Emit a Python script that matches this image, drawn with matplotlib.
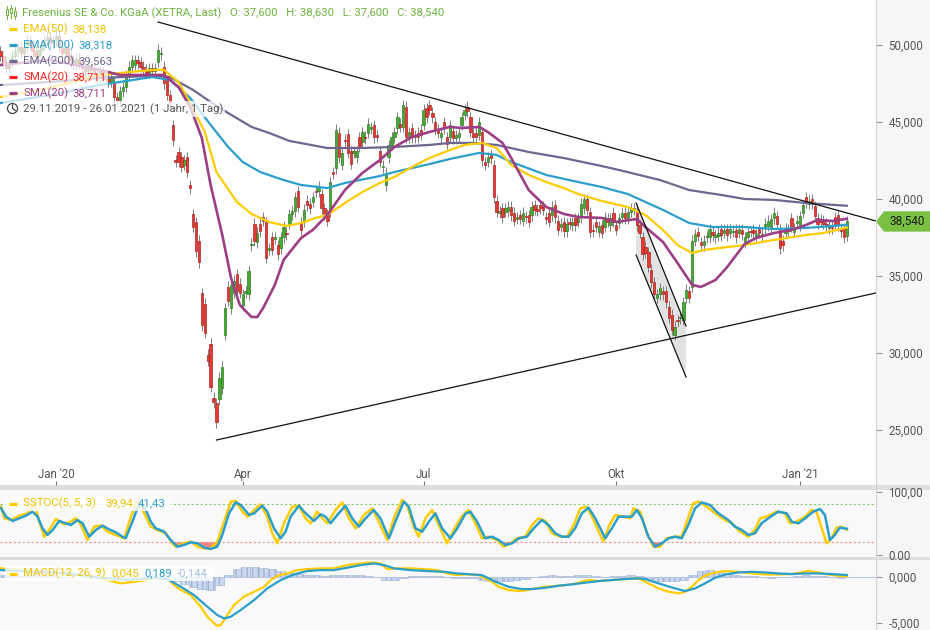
import numpy as np
import pandas as pd
import matplotlib
matplotlib.use("Agg")
import matplotlib.pyplot as plt
import matplotlib.transforms as mtransforms
from matplotlib.patches import Polygon, Rectangle, Circle
from matplotlib.lines import Line2D

plt.rcParams['font.family'] = ['Roboto', 'DejaVu Sans']

W, H = 930, 630

# ---------------- data ----------------
xetra_holidays = ["2019-12-24", "2019-12-25", "2019-12-26", "2019-12-31", "2020-01-01",
                  "2020-04-10", "2020-04-13", "2020-05-01", "2020-12-24", "2020-12-25",
                  "2020-12-31", "2021-01-01"]
dates = pd.bdate_range("2019-11-29", "2021-01-26")
dates = dates[~dates.isin(pd.to_datetime(xetra_holidays))]

opens = [
    49.6, 49.3, 48.9, 48.5, 48.9, 49.3, 49.6, 49.9, 49.5, 49.9,
    50.3, 50.0, 49.6, 49.3, 49.7, 50.0, 50.3, 50.5, 50.1, 50.3,
    50.6, 49.9, 49.5, 49.8, 49.3, 49.0, 48.7, 49.1, 48.8, 48.5,
    48.3, 48.7, 48.4, 48.1, 47.9, 48.3, 48.0, 47.8, 47.6, 47.6,
    46.6, 46.4, 47.0, 47.3, 48.0, 48.6, 48.7, 49.0, 48.9, 48.6,
    48.4, 48.2, 48.5, 48.3, 48.9, 49.4, 48.6, 47.7, 46.75, 44.8,
    42.5, 43.05, 42.7, 42.2, 42.7, 40.9, 39.0, 38.5, 37.3, 33.9,
    33.2, 29.9, 30.6, 27.1, 26.75, 27.0, 27.7, 31.2, 34.3, 32.9,
    33.9, 35.1, 34.5, 33.1, 33.9, 33.8, 37.0, 38.4, 37.2, 38.4,
    38.8, 38.5, 36.7, 37.5, 37.4, 37.0, 36.8, 37.5, 37.8, 38.4,
    39.0, 39.2, 40.5, 38.5, 38.5, 39.9, 39.7, 39.8, 40.55, 40.5,
    40.3, 39.4, 39.0, 39.2, 41.75, 42.0, 44.3, 42.2, 43.85, 44.2,
    43.1, 43.0, 42.7, 44.0, 43.7, 44.05, 44.3, 44.55, 44.8, 44.15,
    43.1, 42.05, 40.9, 42.7, 43.5, 44.0, 44.6, 44.9, 44.7, 46.0,
    44.0, 44.6, 44.0, 44.3, 44.5, 44.8, 45.9, 46.1, 45.6, 45.0,
    44.5, 44.0, 45.0, 44.0, 44.0, 44.4, 43.95, 44.0, 44.8, 45.45,
    46.0, 45.3, 44.3, 44.3, 44.15, 44.35, 42.4, 42.4, 42.85, 42.2,
    39.9, 39.1, 39.4, 39.15, 39.2, 39.5, 39.1, 38.7, 38.95, 38.6,
    38.9, 38.95, 38.95, 39.6, 39.35, 39.6, 39.5, 38.8, 39.1, 38.95,
    39.6, 38.6, 38.2, 38.5, 37.9, 38.5, 38.3, 38.75, 38.5, 38.8,
    39.4, 40.0, 39.15, 38.0, 38.5, 37.85, 38.3, 38.2, 38.75, 38.3,
    39.1, 38.3, 38.45, 38.8, 39.1, 38.7, 39.15, 39.3, 39.3, 38.3,
    37.5, 36.9, 36.55, 35.4, 34.6, 33.6, 33.8, 34.0, 34.0, 33.0,
    32.5, 31.2, 32.15, 32.25, 32.15, 33.6, 34.0, 34.3, 37.3, 37.85,
    37.2, 37.0, 37.5, 37.5, 37.85, 37.5, 37.6, 38.05, 37.8, 38.05,
    37.8, 37.85, 38.0, 37.8, 38.0, 37.2, 37.5, 37.9, 38.0, 37.6,
    38.05, 37.6, 38.1, 38.25, 38.2, 38.75, 38.9, 38.0, 37.3, 37.8,
    38.0, 38.75, 37.85, 38.45, 38.25, 39.1, 40.1, 39.7, 40.0, 39.55,
    38.75, 38.65, 38.6, 38.4, 38.1, 38.2, 38.8, 38.95, 38.1, 38.1,
    37.6,
]
closes = [
    49.3, 48.9, 48.5, 48.9, 49.3, 49.6, 49.9, 49.5, 49.9, 50.3,
    50.0, 49.6, 49.3, 49.7, 50.0, 50.3, 50.5, 50.1, 50.3, 50.6,
    49.9, 49.5, 49.8, 49.3, 49.0, 48.7, 49.1, 48.8, 48.5, 48.3,
    48.7, 48.4, 48.1, 47.9, 48.3, 48.0, 47.8, 47.6, 47.9, 46.6,
    46.4, 47.0, 47.3, 48.0, 48.6, 49.0, 49.0, 48.8, 48.6, 48.4,
    48.2, 48.5, 48.3, 48.5, 49.7, 49.5, 47.5, 46.75, 46.3, 43.8,
    42.4, 42.4, 42.1, 42.5, 41.75, 40.7, 38.2, 36.6, 35.9, 31.8,
    31.3, 29.5, 27.8, 26.8, 25.5, 28.4, 29.1, 32.9, 33.4, 34.4,
    34.7, 34.0, 33.9, 33.8, 34.0, 35.3, 37.1, 37.3, 37.8, 37.9,
    38.6, 36.2, 36.8, 36.7, 37.5, 36.4, 37.5, 38.2, 37.7, 39.0,
    39.2, 40.1, 39.5, 38.0, 39.3, 39.6, 39.4, 40.1, 40.45, 40.8,
    39.4, 39.0, 38.6, 41.1, 41.65, 44.5, 42.7, 43.0, 43.75, 43.0,
    42.3, 43.1, 43.1, 43.4, 44.35, 43.95, 44.9, 44.65, 44.0, 44.05,
    42.4, 42.15, 41.7, 43.5, 44.0, 44.35, 45.3, 44.7, 46.1, 44.0,
    44.35, 44.0, 44.15, 44.0, 44.15, 45.8, 45.3, 45.8, 45.3, 44.5,
    44.3, 44.3, 44.6, 43.6, 44.8, 43.95, 44.15, 44.3, 45.3, 45.8,
    45.7, 44.35, 44.0, 44.0, 45.0, 42.5, 42.2, 42.7, 42.65, 40.1,
    39.15, 39.2, 38.8, 39.4, 39.5, 38.95, 38.6, 38.8, 38.7, 39.1,
    38.8, 38.5, 39.5, 39.3, 39.25, 39.4, 39.3, 38.7, 38.5, 39.5,
    38.8, 38.0, 38.4, 37.9, 38.4, 38.4, 38.5, 38.3, 38.75, 39.7,
    40.0, 39.3, 37.85, 37.9, 38.2, 38.25, 37.8, 38.8, 38.5, 38.75,
    38.5, 38.0, 38.75, 39.1, 38.75, 39.15, 39.4, 39.4, 38.3, 37.8,
    36.4, 36.5, 35.6, 34.6, 33.8, 33.8, 34.2, 33.8, 33.3, 32.3,
    31.5, 31.7, 32.05, 32.35, 33.3, 34.1, 33.6, 37.3, 37.7, 37.6,
    37.0, 37.3, 37.6, 38.05, 37.65, 37.65, 37.8, 37.65, 38.0, 37.65,
    38.05, 37.95, 37.5, 38.05, 37.7, 37.5, 37.85, 37.85, 37.8, 37.7,
    37.8, 37.75, 38.4, 38.6, 38.7, 39.1, 38.4, 36.8, 37.0, 38.1,
    37.9, 38.2, 38.1, 38.6, 38.9, 39.6, 39.75, 39.9, 39.7, 38.9,
    38.4, 38.5, 38.4, 38.3, 38.2, 38.1, 38.4, 38.3, 37.9, 37.5,
    38.54,
]

# indicator lines (trading-day number, value)
ema50_day = [0, 17, 34, 52, 56, 61, 65, 70, 74, 77, 81, 86, 92, 98, 103, 108, 112, 118, 124, 130,
             135, 141, 147, 154, 159, 165, 170, 175, 181, 187, 193, 198, 206, 215, 221, 227, 232, 237,
             241, 249, 255, 259, 265, 276, 282, 290]
ema50_val = [46.62, 47.21, 48.05, 48.38, 48.38, 47.60, 46.23, 44.35, 41.75, 40.91, 39.81, 39.03,
             38.51, 38.25, 38.44, 38.77, 38.96, 39.74, 40.45, 41.04, 41.43, 42.08, 42.66, 43.18,
             43.51, 43.64, 43.31, 42.21, 41.56, 41.10, 40.71, 40.32, 39.87, 39.48, 38.96, 37.99,
             37.01, 36.49, 36.69, 36.88, 37.01, 37.14, 37.34, 37.66, 37.79, 38.14]

ema100_day = [0, 17, 34, 52, 58, 65, 72, 78, 83, 89, 97, 103, 112, 118, 130, 135, 147, 154, 164, 170,
              175, 187, 198, 206, 215, 227, 236, 244, 255, 265, 276, 290]
ema100_val = [46.23, 46.75, 47.40, 47.92, 47.73, 46.56, 44.81, 43.38, 42.40, 41.75, 41.23, 40.91,
              40.71, 41.04, 41.49, 41.75, 42.27, 42.60, 42.99, 42.86, 42.40, 41.56, 41.10, 40.78,
              40.32, 39.29, 38.44, 38.18, 38.18, 38.05, 38.12, 38.32]

ema200_day = [0, 17, 34, 52, 58, 66, 72, 78, 86, 92, 99, 112, 124, 135, 147, 154, 162, 170, 181, 193,
              206, 212, 226, 236, 247, 255, 265, 276, 290]
ema200_val = [47.40, 47.60, 47.86, 47.99, 47.92, 47.08, 46.30, 45.58, 44.68, 44.29, 43.77, 43.31,
              43.31, 43.38, 43.51, 43.64, 43.64, 43.51, 43.05, 42.66, 42.14, 41.88, 41.23, 40.58,
              40.26, 40.00, 39.94, 39.74, 39.56]

sma20_day = [0, 17, 34, 41, 52, 56, 61, 65, 69, 72, 76, 79, 82, 86, 88, 90, 94, 97, 103, 107,
             112, 118, 124, 130, 135, 141, 147, 154, 158, 164, 167, 172, 175, 181, 187, 193, 198, 206,
             211, 218, 221, 227, 232, 237, 240, 245, 249, 255, 259, 265, 271, 276, 280, 285, 290]
sma20_val = [48.70, 49.03, 48.38, 48.05, 48.05, 48.05, 47.27, 45.97, 43.96, 40.91, 37.66, 34.87,
             33.12, 32.34, 32.34, 32.92, 34.42, 36.04, 37.47, 37.99, 38.96, 40.58, 41.69, 42.53,
             43.38, 44.03, 44.35, 44.68, 44.61, 44.68, 44.35, 43.64, 42.66, 40.58, 39.48, 39.03,
             38.83, 38.77, 38.51, 38.70, 38.18, 37.21, 35.84, 34.42, 34.29, 34.74, 35.58, 37.08,
             37.47, 37.79, 37.99, 38.31, 38.64, 38.57, 38.71]

# slow stochastic (5, 5, 3)
stk_day = [0.2, 1.3, 3.6, 6.4, 9.3, 11.6, 13.3, 15.0, 16.7, 19.0, 21.8, 23.6, 25.8, 27.5, 29.8, 32.1,
           34.4, 36.7, 39.5, 42.4, 44.7, 46.4, 47.5, 49.2, 51.5, 53.8, 56.6, 58.9, 60.1, 62.9, 65.2,
           67.5, 69.8, 72.0, 74.3, 76.6, 78.9, 80.6, 82.9, 84.6, 86.9, 89.1, 91.4, 93.1, 94.9, 97.1,
           100.0, 102.3, 104.5, 106.3, 108.5, 110.3, 112.0, 114.8, 117.1, 119.4, 121.7, 124.5, 127.4,
           129.6, 132.5, 134.8, 137.6, 139.3, 141.6, 143.3, 145.6, 147.9, 150.2, 153.0, 155.3, 157.6,
           159.3, 160.4, 162.7, 165.0, 167.3, 170.1, 172.4, 174.7, 177.0, 179.8, 182.1, 184.4, 186.7,
           189.0, 191.8, 194.1, 196.4, 198.7, 200.9, 203.2, 205.5, 206.6, 208.4, 210.6, 213.5, 215.8,
           216.9, 219.2, 221.5, 223.8, 226.0, 228.3, 231.2, 233.4, 235.2, 237.4, 239.2, 242.0, 244.9,
           248.3, 250.6, 253.4, 256.3, 258.5, 260.3, 262.5, 265.9, 268.8, 270.5, 272.8, 275.7, 277.9,
           279.6, 281.4, 283.1, 284.8, 286.5, 288.2, 290.0]
stk_val = [76.3, 57.9, 55.2, 62.1, 65.8, 81.6, 52.6, 28.9, 39.5, 56.8, 48.4, 51.6, 57.9, 48.4, 23.7,
           44.7, 46.3, 36.8, 31.6, 26.3, 60.5, 81.6, 84.2, 65.8, 44.7, 39.5, 34.2, 18.4, 13.1, 18.4,
           21.0, 13.1, 10.5, 10.5, 21.0, 52.6, 84.2, 85.2, 68.4, 60.5, 71.0, 80.0, 60.5, 34.2, 18.4,
           50.0, 76.3, 77.9, 57.9, 50.0, 68.4, 57.9, 50.0, 71.0, 83.1, 57.9, 42.1, 63.1, 73.7, 52.6,
           23.7, 57.9, 86.8, 78.9, 44.7, 28.9, 57.9, 71.0, 47.3, 18.4, 39.5, 57.9, 67.0, 71.0, 50.0,
           26.3, 28.9, 23.7, 13.1, 18.4, 26.3, 28.9, 47.3, 57.9, 53.7, 34.2, 28.9, 28.9, 47.3, 73.7,
           76.3, 55.2, 31.6, 21.0, 44.7, 63.1, 60.5, 57.9, 73.7, 68.4, 34.2, 13.1, 13.1, 26.3, 28.9,
           28.9, 52.6, 81.6, 84.2, 76.3, 65.8, 55.2, 50.0, 36.8, 28.9, 39.5, 57.9, 60.5, 68.4, 65.8,
           50.0, 52.6, 60.5, 71.0, 68.4, 42.1, 18.4, 26.3, 43.1, 44.7, 39.94]
std_day = [0.2, 1.9, 4.2, 6.4, 8.7, 11.0, 12.7, 14.4, 16.1, 17.9, 20.1, 22.4, 24.1, 26.4, 28.1, 30.4,
           32.7, 35.0, 37.2, 39.5, 41.8, 42.9, 45.2, 46.9, 48.1, 49.8, 51.5, 53.2, 56.1, 58.3, 60.6,
           62.9, 65.2, 67.5, 69.8, 72.0, 74.3, 76.0, 78.3, 80.6, 82.3, 85.2, 86.9, 89.7, 91.4, 93.7,
           96.0, 97.7, 99.4, 102.3, 104.0, 107.4, 109.7, 111.4, 113.1, 115.4, 118.2, 120.5, 122.8,
           125.1, 127.9, 130.2, 133.1, 135.3, 138.2, 139.9, 142.2, 144.5, 146.8, 149.0, 151.3, 154.2,
           156.5, 159.3, 161.0, 163.3, 166.1, 168.4, 170.7, 173.0, 175.3, 177.6, 180.4, 182.7, 185.5,
           187.8, 190.1, 192.4, 194.7, 196.9, 199.2, 201.5, 203.8, 206.1, 207.2, 209.5, 211.8, 214.1,
           216.3, 218.1, 219.8, 222.0, 224.3, 226.6, 228.9, 231.2, 233.4, 235.7, 238.0, 240.3, 243.1,
           246.0, 249.4, 251.7, 254.0, 256.3, 258.5, 260.8, 263.1, 266.5, 269.4, 271.1, 273.4, 275.7,
           278.5, 280.8, 282.5, 284.2, 285.9, 287.6, 290.0]
std_val = [73.7, 60.5, 53.7, 57.9, 62.1, 68.4, 60.5, 42.1, 31.6, 39.5, 53.7, 50.0, 47.3, 55.2, 50.0,
           28.9, 39.5, 46.3, 40.5, 35.8, 28.9, 26.3, 52.6, 73.7, 81.6, 71.0, 52.6, 42.1, 36.8, 23.7,
           13.1, 15.8, 20.0, 18.4, 11.6, 9.5, 13.1, 31.6, 65.8, 83.1, 78.9, 63.1, 65.8, 77.9, 68.4,
           42.1, 26.3, 36.8, 60.5, 77.9, 68.4, 53.7, 64.2, 60.5, 50.0, 63.1, 77.9, 57.9, 44.7, 57.9,
           71.0, 57.9, 26.3, 52.6, 84.2, 76.3, 42.1, 36.8, 52.6, 65.8, 42.1, 26.3, 42.1, 65.0, 68.4,
           52.6, 26.3, 28.9, 23.7, 15.8, 18.4, 26.3, 28.9, 42.1, 55.2, 47.3, 34.2, 28.9, 28.9, 42.1,
           65.8, 74.7, 57.9, 36.8, 26.3, 42.1, 60.5, 60.5, 60.5, 71.0, 57.9, 28.9, 13.1, 18.4, 26.3,
           28.9, 26.3, 47.3, 73.7, 83.1, 78.9, 65.8, 55.2, 44.7, 39.5, 31.6, 34.2, 50.0, 57.9, 68.4,
           65.8, 52.6, 50.0, 57.9, 68.4, 72.6, 63.1, 23.7, 31.6, 43.1, 41.43]

# MACD (12, 26, 9)
macd_day = [0.2, 11.6, 23.0, 34.4, 41.2, 48.1, 52.6, 57.2, 59.5, 61.8, 65.2, 68.6, 70.9, 73.2, 74.3,
            75.5, 77.7, 80.0, 83.4, 86.9, 90.3, 92.6, 94.9, 98.3, 101.7, 105.1, 109.7, 114.2, 118.8,
            123.4, 126.8, 130.2, 132.5, 135.9, 140.5, 145.0, 149.6, 153.0, 156.5, 159.3, 163.9, 168.4,
            170.7, 174.1, 178.7, 182.1, 186.7, 191.2, 195.8, 199.2, 201.5, 204.9, 209.5, 214.1, 218.6,
            220.9, 223.2, 225.5, 228.9, 232.3, 234.6, 236.9, 239.2, 241.4, 244.9, 248.3, 252.8, 257.4,
            262.0, 266.5, 271.1, 276.8, 280.2, 283.6, 287.1, 290.0]
macd_val = [0.91, 0.62, 0.36, -0.18, -0.72, -0.47, -0.18, -0.18, -0.91, -1.45, -1.99, -3.26, -4.35,
            -5.07, -5.33, -5.25, -4.17, -3.08, -2.17, -1.63, -1.09, -0.36, 0.11, 0.36, 0.72, 0.83,
            0.91, 0.91, 1.27, 1.45, 1.56, 1.45, 0.83, 0.91, 0.91, 0.83, 0.72, 0.36, 0.18, 0.25, 0.18,
            -0.54, -1.09, -1.45, -1.56, -1.34, -1.09, -0.98, -0.83, -0.54, -0.36, -0.47, -0.36, -0.25,
            -0.18, -0.54, -0.91, -1.27, -1.63, -1.81, -1.63, -1.09, -0.36, 0.11, 0.47, 0.62, 0.54,
            0.36, 0.25, 0.25, 0.29, 0.62, 0.47, 0.25, 0.11, 0.045]
sig_day = [0.2, 11.6, 23.0, 34.4, 43.5, 52.6, 57.2, 61.8, 66.3, 70.9, 74.3, 76.6, 78.9, 82.3, 86.9,
           91.4, 96.0, 100.6, 105.1, 109.7, 114.2, 118.8, 123.4, 127.9, 131.4, 134.8, 140.5, 146.2,
           151.9, 156.5, 159.3, 165.0, 169.6, 174.1, 178.7, 182.1, 186.7, 191.2, 195.8, 200.4, 204.9,
           209.5, 214.1, 218.6, 220.9, 225.5, 230.0, 234.6, 238.0, 241.4, 244.9, 248.3, 252.8, 257.4,
           262.0, 266.5, 271.1, 275.7, 280.2, 284.8, 290.0]
sig_val = [0.72, 0.54, 0.36, -0.11, -0.36, -0.11, -0.25, -1.09, -1.99, -3.26, -4.17, -4.53, -4.35,
           -3.62, -2.54, -1.27, -0.36, 0.25, 0.62, 0.72, 0.72, 0.98, 1.27, 1.45, 1.27, 0.91, 0.72,
           0.62, 0.54, 0.36, 0.30, 0.18, -0.54, -1.09, -1.34, -1.34, -1.20, -0.98, -0.83, -0.65,
           -0.47, -0.36, -0.25, -0.18, -0.25, -0.72, -1.16, -1.56, -1.27, -0.72, -0.11, 0.25, 0.47,
           0.54, 0.47, 0.36, 0.29, 0.36, 0.36, 0.29, 0.189]
hist_val = [0.15, 0.12, 0.1, 0.08, 0.06, 0.05, 0.03, 0.02, 0.0, -0.05,
            -0.1, -0.15, -0.25, -0.3, -0.3, -0.2, -0.1, -0.05, 0.0, -0.1,
            -0.45, -0.8, -1.1, -1.35, -1.45, -0.9, 0.2, 0.8, 1.05, 1.1,
            1.0, 0.8, 0.6, 0.4, 0.3, 0.2, 0.15, 0.12, 0.15, 0.2,
            0.2, 0.15, 0.1, 0.0, -0.3, -0.3, -0.1, 0.1, 0.12, 0.1,
            0.08, 0.0, -0.1, -0.1, -0.15, -0.3, -0.45, -0.5, -0.45, -0.35,
            -0.2, -0.05, 0.1, 0.15, 0.1, 0.05, 0.15, 0.2, 0.05, 0.0,
            0.05, 0.1, 0.15, 0.05, -0.25, -0.45, -0.5, -0.5, -0.35, 0.2,
            0.6, 0.7, 0.6, 0.4, 0.2, 0.1, 0.05, -0.05, -0.1, -0.05,
            0.0, 0.05, 0.15, 0.12, 0.05, -0.05, -0.14]
hist_step = 3

# drawn trend lines (trading day, price)
trend_lines = [
    ([54, 300], [51.49, 38.57]),
    ([74, 300], [24.35, 33.90]),
    ([217.8, 234.9], [39.74, 31.75]),
    ([217.8, 234.9], [36.36, 28.44]),
]
last_price = 38.54

# ---------------- figure ----------------
fig = plt.figure(figsize=(W / 100, H / 100), dpi=100)
fig.patch.set_facecolor('#dedede')
px = mtransforms.Affine2D().scale(1, -1).translate(0, H)   # top-left pixel coords

def panel(top, bottom, right=876):
    return fig.add_axes([0, 1 - bottom / H, right / W, (bottom - top) / H])

ax = panel(0, 485)
ax_st = panel(490, 557)
ax_md = panel(560, 630)

for top, bottom in [(0, 485), (490, 557), (560, 630)]:
    fig.add_artist(Rectangle((876, top), 54, bottom - top, transform=px,
                             facecolor='#f6f6f6', edgecolor='none', zorder=-1))
fig.add_artist(Line2D([876, 876], [0, H], transform=px, color='#d4d4d4', lw=0.8, zorder=1))

def style(a, bg):
    a.set_facecolor(bg)
    for s in a.spines.values():
        s.set_visible(False)
    a.yaxis.tick_right()
    a.tick_params(axis='y', colors='#555555', labelsize=8.3, length=4, width=0.8, pad=5)
    a.tick_params(axis='y', color='#9a9a9a')
    a.set_xlim(-0.17, 300)
    a.set_xticks([])

style(ax, 'white')
style(ax_st, '#f9f9f9')
style(ax_md, '#f9f9f9')

# ---- main price panel ----
days = np.arange(len(dates))
o = np.array(opens)
c = np.array(closes)
up = c >= o
body_lo = np.minimum(o, c)
body_h = np.maximum(np.abs(c - o), 0.06)
wick = 0.35
ax.vlines(days, body_lo - wick, body_lo + body_h + wick, color='#7d7d7d', lw=0.7, zorder=3)
ax.bar(days[up], body_h[up], bottom=body_lo[up], width=0.8, color='#47a834',
       edgecolor='#2f7d22', linewidth=0.5, zorder=4)
ax.bar(days[~up], body_h[~up], bottom=body_lo[~up], width=0.8, color='#e23b33',
       edgecolor='#b02020', linewidth=0.5, zorder=4)

ax.plot(ema200_day, ema200_val, color='#6e6790', lw=1.6, zorder=5)
ax.plot(ema100_day, ema100_val, color='#2b9fcb', lw=1.6, zorder=5)
ax.plot(ema50_day, ema50_val, color='#ffcc00', lw=1.6, zorder=5)
ax.plot(sma20_day, sma20_val, color='#9c3f86', lw=1.9, zorder=6)

(ch_x, ch_a), (_, ch_b) = trend_lines[2], trend_lines[3]
ax.add_patch(Polygon([(ch_x[0], ch_a[0]), (ch_x[1], ch_a[1]), (ch_x[1], ch_b[1]), (ch_x[0], ch_b[0])],
                     facecolor='#e2e2e2', edgecolor='none', zorder=1))
for tx, ty in trend_lines:
    ax.plot(tx, ty, color='#111111', lw=0.9, zorder=7)

ax.set_ylim(21.43, 52.92)
ax.set_yticks([25, 30, 35, 40, 45, 50])
ax.set_yticklabels([f"{v:.3f}".replace('.', ',') for v in [25, 30, 35, 40, 45, 50]])

month_starts = ['2020-01-01', '2020-04-01', '2020-07-01', '2020-10-01', '2021-01-01']
tick_pos = [int(np.argmax(dates >= pd.Timestamp(d))) for d in month_starts]
ax.set_xticks(tick_pos)
ax.set_xticklabels(["Jan '20", "Apr", "Jul", "Okt", "Jan '21"])
ax.tick_params(axis='x', direction='in', length=3, width=0.8, color='#777777',
               labelsize=8.3, labelcolor='#555555', pad=-12)

# last price flag
blend = mtransforms.blended_transform_factory(ax.transAxes, ax.transData)
fx0, fx1, fx2 = 1.0, 1.0 + 8 / 876, 930 / 876
hh = 0.66
ax.add_patch(Polygon([(fx0, last_price), (fx1, last_price + hh), (fx2, last_price + hh),
                      (fx2, last_price - hh), (fx1, last_price - hh)],
                     transform=blend, facecolor='#79c043', edgecolor='none', clip_on=False, zorder=10))
ax.text(1.0 + 31 / 876, last_price, f"{last_price:.3f}".replace('.', ','), transform=blend,
        ha='center', va='center', fontsize=8.5, color='#1a1a1a', clip_on=False, zorder=11)

# ---- legend of main panel ----
def ftext(x, y, s, color, **kw):
    fig.text(x, y, s, transform=px, color=color, fontsize=8.2, va='center', ha='left', zorder=20, **kw)

green = '#6cb33e'
# candle icon
for xi, (y0, y1, b0, b1) in zip([7, 11, 15], [(6, 19, 9, 15), (5, 18, 8, 13), (7, 19, 11, 16)]):
    fig.add_artist(Line2D([xi, xi], [y0, y1], transform=px, color=green, lw=0.7, zorder=20))
    fig.add_artist(Rectangle((xi - 1.3, b0), 2.6, b1 - b0, transform=px, facecolor='white',
                             edgecolor=green, lw=0.7, zorder=21))
ftext(22, 13, "Fresenius SE & Co. KGaA (XETRA, Last)   O: 37,600   H: 38,630   L: 37,600   C: 38,540", green)

rows = [
    (29, "EMA(50)", "38,138", 72, '#ffcc00', '#f2c200', 108),
    (45, "EMA(100)", "38,318", 78, '#2b9fcb', '#2b9fcb', 114),
    (61, "EMA(200)", "39,563", 78, '#6e6790', '#6e6790', 114),
    (77, "SMA(20)", "38,711", 72, '#ff2020', '#ff2020', 108),
    (93, "SMA(20)", "38,711", 72, '#9c3f86', '#9c3f86', 108),
]
for y, lab, val, vx, lc, tc, right in rows:
    fig.add_artist(Rectangle((3, y - 8), right - 3, 16, transform=px, facecolor='white',
                             alpha=0.72, edgecolor='none', zorder=18))
    fig.add_artist(Line2D([9, 17], [y, y], transform=px, color=lc, lw=2.3, solid_capstyle='butt', zorder=20))
    ftext(23, y, lab, tc)
    ftext(vx, y, val, tc)
fig.add_artist(Rectangle((3, 101), 222, 16, transform=px, facecolor='white', alpha=0.72,
                         edgecolor='none', zorder=18))
fig.add_artist(Circle((12.5, 108.5), 5, transform=px, facecolor='none', edgecolor='#444444', lw=0.9, zorder=20))
fig.add_artist(Line2D([12.5, 12.5, 15.5], [105, 108.5, 110.5], transform=px, color='#444444', lw=0.9, zorder=20))
ftext(23, 109, "29.11.2019 - 26.01.2021", '#555555')
ftext(150, 109, "(1 Jahr, 1 Tag)", '#555555')

# ---- stochastic panel ----
ax_st.axhline(80, color='#8cc870', lw=0.8, ls=(0, (2, 2)), zorder=1)
ax_st.axhline(20, color='#ec8f8f', lw=0.8, ls=(0, (2, 2)), zorder=1)
std_arr = np.array(std_val)
ax_st.fill_between(std_day, std_arr, 20, where=std_arr < 20, interpolate=True,
                   color='#f07b78', alpha=0.9, linewidth=0, zorder=2)
ax_st.plot(stk_day, stk_val, color='#ffcc00', lw=1.8, zorder=3)
ax_st.plot(std_day, std_val, color='#2b9fcb', lw=1.8, zorder=4)
ax_st.set_ylim(-3.2, 102.6)
ax_st.set_yticks([0, 100])
ax_st.set_yticklabels(["0.00", "100,00"])

fig.add_artist(Rectangle((5, 496), 166, 15, transform=px, facecolor='white', alpha=0.8,
                         edgecolor='none', zorder=18))
fig.add_artist(Line2D([9, 17], [503.5, 503.5], transform=px, color='#ffcc00', lw=2.3,
                      solid_capstyle='butt', zorder=20))
ftext(23, 503.5, "SSTOC(5, 5, 3)", '#f2c200')
ftext(105, 503.5, "39,94", '#f2c200')
ftext(138, 503.5, "41,43", '#2b9fcb')

# ---- MACD panel ----
hist_day = np.arange(len(hist_val)) * hist_step
ax_md.bar(hist_day, hist_val, width=hist_step, color='#cbd8ee', edgecolor='#9fb3d6',
          linewidth=0.4, hatch='|||', zorder=1)
ax_md.axhline(0, color='#b7c6e0', lw=0.8, zorder=1)
ax_md.plot(macd_day, macd_val, color='#ffcc00', lw=1.6, zorder=3)
ax_md.plot(sig_day, sig_val, color='#2b9fcb', lw=1.6, zorder=4)
ax_md.set_ylim(-5.79, 1.82)
ax_md.set_yticks([0, -5])
ax_md.set_yticklabels(["0,000", "-5,000"])

fig.add_artist(Rectangle((5, 566), 208, 15, transform=px, facecolor='white', alpha=0.8,
                         edgecolor='none', zorder=18))
fig.add_artist(Line2D([9, 17], [573.5, 573.5], transform=px, color='#ffcc00', lw=2.3,
                      solid_capstyle='butt', zorder=20))
ftext(23, 573.5, "MACD(12, 26, 9)", '#f2c200')
ftext(111, 573.5, "0,045", '#f2c200')
ftext(144, 573.5, "0,189", '#2b9fcb')
ftext(177, 573.5, "-0,144", '#a8bfdf')

fig.savefig("out.png", dpi=100, facecolor=fig.get_facecolor())
